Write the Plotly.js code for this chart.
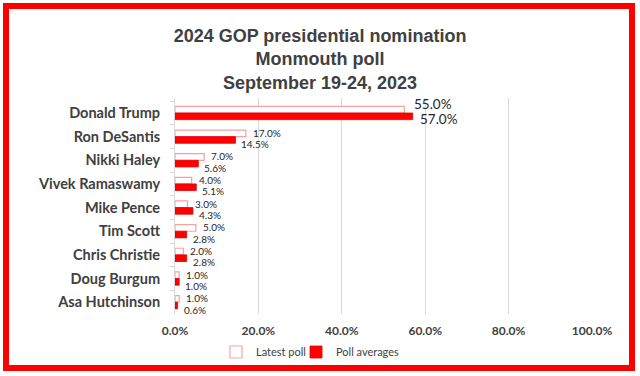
<!DOCTYPE html>
<html>
<head>
<meta charset="utf-8">
<script src="https://cdn.plot.ly/plotly-3.0.1.min.js"></script>
<style>html,body{margin:0;padding:0;background:#fff;}#chart{width:640px;height:376px;}</style>
</head>
<body>
<div id="chart"></div>
<script>
const candidates = ["Donald Trump","Ron DeSantis","Nikki Haley","Vivek Ramaswamy","Mike Pence","Tim Scott","Chris Christie","Doug Burgum","Asa Hutchinson"];
const latestPoll = [55.0,17.0,7.0,4.0,3.0,5.0,2.0,1.0,1.0];
const pollAverages = [57.0,14.5,5.6,5.1,4.3,2.8,2.8,1.0,0.6];
const xTickVals = [0,20,40,60,80,100];
const xTickText = ["0.0%","20.0%","40.0%","60.0%","80.0%","100.0%"];
const titleLines = ["2024 GOP presidential nomination","Monmouth poll","September 19-24, 2023"];
const seriesNames = ["Latest poll","Poll averages"];

const W = 640, H = 376;
const M = {l:175, r:48, t:98, b:62};
const pw = W - M.l - M.r, ph = H - M.t - M.b;
const px = v => (v - M.l) / pw;
const py = v => 1 - (v - M.t) / ph;

const traces = [
  {
    type:'bar', orientation:'h', name: seriesNames[0], legend:'legend',
    y: candidates, x: latestPoll,
    marker:{color:'#ffffff', line:{color:'#f4a3a3', width:1.2}},
    hoverinfo:'skip'
  },
  {
    type:'bar', orientation:'h', name: seriesNames[1], legend:'legend2',
    y: candidates, x: pollAverages,
    marker:{color:'#ff0000', line:{color:'#e00000', width:0.8}},
    hoverinfo:'skip'
  }
];

// value labels (Excel-style data labels), placed at the data values
const labelFont = i => ({family:'Lato, sans-serif', size: i === 0 ? 13.5 : 10, color:'#262626'});
const annotations = [];
candidates.forEach((c, i) => {
  annotations.push({
    xref:'x', yref:'y', x: latestPoll[i], y: c,
    text: latestPoll[i].toFixed(1) + '%', showarrow:false,
    xanchor:'left', yanchor:'middle', borderpad:0,
    xshift: i === 0 ? 9 : 6, yshift: i === 0 ? 9 : 4,
    font: labelFont(i)
  });
  annotations.push({
    xref:'x', yref:'y', x: pollAverages[i], y: c,
    text: pollAverages[i].toFixed(1) + '%', showarrow:false,
    xanchor:'left', yanchor:'middle', borderpad:0,
    xshift: i === 0 ? 6 : 5, yshift: i === 0 ? -6 : -7.5,
    font: labelFont(i)
  });
});

const legendBase = {
  orientation:'h', xref:'container', yref:'container',
  xanchor:'left', y:1 - 352/H, yanchor:'middle',
  font:{family:'Lato, sans-serif', size:11, color:'#404040'},
  itemwidth:30, bgcolor:'rgba(0,0,0,0)'
};

const layout = {
  width: W, height: H,
  margin: M,
  paper_bgcolor:'#ffffff', plot_bgcolor:'#ffffff',
  barmode:'group', bargap:0.44, bargroupgap:0,
  showlegend:true,
  title:{
    text: titleLines.map(t => '<b>' + t + '</b>').join('<br>'),
    font:{family:'Liberation Sans, Arial, sans-serif', size:18, color:'#404040'},
    x:0.5, xref:'container', xanchor:'center',
    y:1 - 42/H, yref:'container', yanchor:'top'
  },
  xaxis:{
    range:[0,100], tickvals:xTickVals, ticktext:xTickText,
    showgrid:true, gridcolor:'#d9d9d9', gridwidth:1,
    zeroline:false, showline:false, ticks:'',
    ticklabelstandoff:8,
    tickfont:{family:'Lato, sans-serif', size:12, color:'#404040', weight:'bold'},
    fixedrange:true
  },
  yaxis:{
    type:'category', autorange:'reversed',
    showgrid:false, zeroline:false,
    showline:true, linecolor:'#d9d9d9', linewidth:1,
    ticks:'outside', tickson:'boundaries', ticklen:4, tickcolor:'#d9d9d9',
    ticklabelstandoff:11,
    tickfont:{family:'Lato, sans-serif', size:14.5, color:'#404040', weight:'bold'},
    fixedrange:true
  },
  legend: Object.assign({}, legendBase, {x: 216/W}),
  legend2: Object.assign({}, legendBase, {x: 296/W}),
  annotations: annotations,
  shapes:[{
    type:'rect', xref:'paper', yref:'paper',
    x0: px(6), x1: px(632), y0: py(6), y1: py(368),
    line:{color:'#ff0000', width:6}, fillcolor:'rgba(0,0,0,0)', layer:'above'
  }]
};

Plotly.newPlot('chart', traces, layout, {staticPlot:true, displayModeBar:false});
</script>
</body>
</html>
